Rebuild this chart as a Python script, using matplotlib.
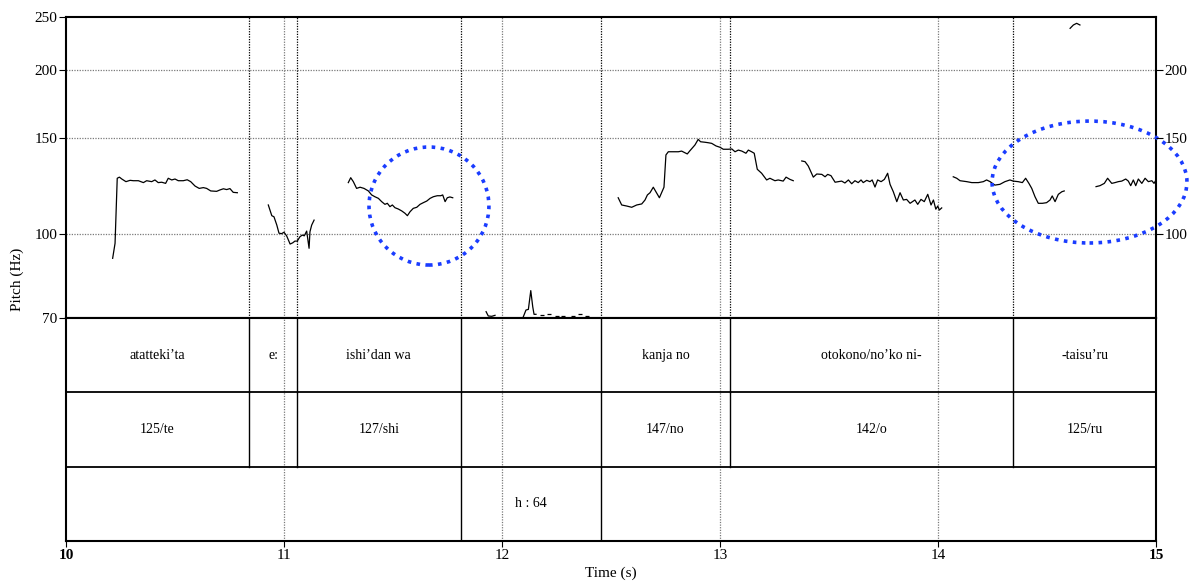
import numpy as np
import matplotlib
matplotlib.use("Agg")
import matplotlib.pyplot as plt
from matplotlib.patches import Ellipse
from matplotlib.ticker import NullLocator, FixedLocator

plt.rcParams["font.family"] = ["Liberation Serif", "DejaVu Serif"]

# --- pitch track (time in s, F0 in Hz), one array pair per voiced stretch ---
seg1_t = [10.214, 10.225, 10.235, 10.245, 10.256, 10.275, 10.294, 10.309, 10.332, 10.355,
          10.370, 10.393, 10.408, 10.423, 10.439, 10.457, 10.469, 10.485, 10.500, 10.515,
          10.538, 10.556, 10.572, 10.592, 10.611, 10.630, 10.645, 10.664, 10.691, 10.706,
          10.722, 10.737, 10.752, 10.767, 10.786]
seg1_hz = [90.1, 96.0, 126.4, 127.0, 126.0, 124.6, 125.3, 125.1, 125.1, 124.1,
           125.1, 124.6, 125.5, 124.1, 124.3, 123.7, 126.4, 125.5, 126.0, 125.1,
           125.1, 125.6, 124.6, 122.3, 121.1, 121.5, 121.1, 119.8, 119.6, 120.3,
           120.9, 120.5, 121.0, 119.1, 118.9]

seg2_t = [10.928, 10.944, 10.954, 10.967, 10.977, 10.989, 11.000, 11.012, 11.028, 11.040,
          11.050, 11.061, 11.073, 11.084, 11.093, 11.104, 11.115, 11.119, 11.127, 11.138]
seg2_hz = [112.9, 107.9, 107.4, 103.7, 100.2, 100.0, 100.6, 99.1, 95.7, 96.2,
           96.9, 96.9, 98.7, 99.4, 99.1, 101.1, 94.0, 100.8, 103.7, 105.9]

seg3_t = [11.295, 11.306, 11.318, 11.333, 11.349, 11.367, 11.387, 11.402, 11.417, 11.433,
          11.448, 11.463, 11.474, 11.486, 11.497, 11.509, 11.524, 11.540, 11.555, 11.566,
          11.578, 11.593, 11.609, 11.624, 11.639, 11.655, 11.670, 11.685, 11.703, 11.719,
          11.728, 11.739, 11.749, 11.761, 11.774]
seg3_hz = [124.1, 126.7, 124.6, 121.1, 121.7, 121.1, 119.8, 117.8, 116.9, 116.1,
           114.5, 113.2, 113.7, 112.1, 112.9, 111.6, 111.0, 110.1, 109.0, 107.9,
           109.7, 111.3, 111.8, 113.2, 114.0, 114.8, 116.1, 116.9, 117.4, 117.4,
           117.8, 114.5, 116.4, 116.8, 116.4]

seg4_t = [11.927, 11.937, 11.953, 11.968]
seg4_hz = [71.9, 70.6, 70.5, 70.8]

seg5_t = [12.098, 12.110, 12.121, 12.132, 12.141, 12.147, 12.156]
seg5_hz = [70.4, 72.4, 72.6, 78.6, 73.4, 71.1, 71.1]

# isolated single frames near the floor
dots_t = [12.182, 12.217, 12.251, 12.281, 12.327, 12.358, 12.388]
dots_hz = [70.9, 71.3, 70.7, 70.7, 70.6, 71.2, 70.6]

seg6_t = [12.533, 12.549, 12.572, 12.595, 12.618, 12.641, 12.656, 12.667, 12.679, 12.694,
          12.706, 12.722, 12.743, 12.752, 12.763, 12.786, 12.809, 12.824, 12.839, 12.850,
          12.862, 12.885, 12.900, 12.911, 12.931, 12.946, 12.962, 12.982, 13.000, 13.015,
          13.038, 13.054, 13.069, 13.084, 13.100, 13.119, 13.130, 13.145, 13.157, 13.171,
          13.191, 13.214, 13.229, 13.252, 13.267, 13.290, 13.303, 13.321, 13.336]
seg6_hz = [116.4, 112.9, 112.4, 111.8, 112.9, 113.4, 115.3, 117.8, 118.9, 121.7,
           119.4, 116.4, 121.7, 139.5, 141.4, 141.4, 141.4, 141.8, 140.8, 140.1,
           142.0, 145.5, 149.0, 147.5, 147.2, 146.9, 146.5, 144.9, 144.1, 142.9,
           142.9, 143.1, 141.4, 142.4, 141.8, 140.5, 142.4, 141.4, 140.5, 131.3,
           129.1, 125.5, 126.4, 125.1, 125.5, 124.9, 127.0, 125.8, 125.1]

seg7_t = [13.375, 13.390, 13.405, 13.428, 13.444, 13.467, 13.482, 13.494, 13.509, 13.528,
          13.543, 13.558, 13.573, 13.589, 13.604, 13.619, 13.634, 13.647, 13.657, 13.673,
          13.688, 13.698, 13.711, 13.723, 13.739, 13.754, 13.769, 13.780, 13.795, 13.811,
          13.826, 13.841, 13.856, 13.872, 13.894, 13.907, 13.922, 13.937, 13.953, 13.968,
          13.979, 13.990, 13.999, 14.006, 14.017]
seg7_hz = [136.0, 135.6, 133.1, 127.0, 128.7, 128.5, 127.2, 128.5, 127.8, 124.3,
           124.6, 124.9, 123.9, 125.5, 123.5, 125.1, 124.1, 125.5, 124.1, 125.3,
           124.6, 125.5, 121.8, 125.5, 124.6, 125.8, 129.1, 123.2, 119.4, 114.5,
           118.9, 115.3, 115.6, 113.7, 115.3, 113.2, 115.6, 114.5, 118.1, 112.9,
           115.3, 110.9, 112.4, 110.5, 111.5]

seg8_t = [14.070, 14.086, 14.101, 14.132, 14.155, 14.185, 14.208, 14.223, 14.239, 14.261,
          14.284, 14.307, 14.330, 14.345, 14.368, 14.387, 14.402, 14.417, 14.430, 14.445,
          14.460, 14.479, 14.498, 14.514, 14.524, 14.537, 14.552, 14.568, 14.579]
seg8_hz = [127.2, 126.4, 125.1, 124.6, 124.1, 124.1, 124.6, 125.5, 124.6, 122.8,
           123.2, 124.6, 125.5, 124.9, 124.6, 124.1, 126.4, 123.7, 121.1, 116.9,
           113.7, 113.7, 114.0, 115.3, 117.3, 114.5, 118.1, 119.4, 119.8]

seg9_t = [14.606, 14.621, 14.636, 14.651]
seg9_hz = [238.3, 241.7, 243.4, 241.7]

seg10_t = [14.725, 14.743, 14.763, 14.778, 14.797, 14.812, 14.827, 14.843, 14.861, 14.873,
           14.884, 14.896, 14.907, 14.919, 14.935, 14.950, 14.965, 14.981, 14.991, 15.000]
seg10_hz = [122.0, 122.5, 123.7, 126.4, 123.7, 124.1, 124.6, 124.9, 126.0, 124.9,
            122.5, 125.5, 122.5, 126.0, 123.7, 126.4, 124.6, 125.1, 123.7, 125.5]

segments = [(seg1_t, seg1_hz), (seg2_t, seg2_hz), (seg3_t, seg3_hz), (seg4_t, seg4_hz),
            (seg5_t, seg5_hz), (seg6_t, seg6_hz), (seg7_t, seg7_hz), (seg8_t, seg8_hz),
            (seg9_t, seg9_hz), (seg10_t, seg10_hz)]

# --- TextGrid tiers ---
tier1_bounds = [10.0, 10.84, 11.06, 11.81, 12.455, 13.045, 14.345, 15.0]
tier1_labels = ["atatteki\u2019ta", "e:", "ishi\u2019dan wa", "", "kanja no",
                "otokono/no\u2019ko ni-", "-taisu\u2019ru"]
tier2_bounds = [10.0, 10.84, 11.06, 11.81, 12.455, 13.045, 14.345, 15.0]
tier2_labels = ["125/te", "", "127/shi", "", "147/no", "142/o", "125/ru"]
tier3_bounds = [10.0, 11.81, 12.455, 15.0]
tier3_labels = ["", "h : 64", ""]

t_min, t_max = 10.0, 15.0
f_min, f_max = 70, 250
left_ticks = [70, 100, 150, 200, 250]
right_ticks = [100, 150, 200]
time_ticks = [10, 11, 12, 13, 14, 15]

# highlighted regions: centre time, centre Hz, width (s), height (fraction of pitch panel)
hl_t = [11.665, 14.695]
hl_hz = [112.4, 124.4]
hl_w = [0.55, 0.894]
hl_h = [0.392, 0.405]

fig = plt.figure(figsize=(11.89, 5.84), dpi=100)
ax = fig.add_axes([66 / 1189, 266 / 584, 1090 / 1189, 301 / 584])
axt = fig.add_axes([66 / 1189, 43 / 584, 1090 / 1189, 223 / 584])

grid_kw = dict(color="#7a7a7a", lw=0.9, ls=(0, (1, 1.1)), zorder=1)
bound_kw = dict(color="black", lw=0.9, ls=(0, (1, 1.1)), zorder=1)

# pitch panel
ax.set_yscale("log")
ax.set_xlim(t_min, t_max)
ax.set_ylim(f_min, f_max)
ax.yaxis.set_major_locator(FixedLocator(left_ticks))
ax.yaxis.set_minor_locator(NullLocator())
ax.set_yticklabels([str(v) for v in left_ticks])
ax.set_xticks([])
ax.tick_params(axis="y", direction="out", length=5, width=0.8, labelsize=11, pad=1)
for v in right_ticks:
    ax.axhline(v, **grid_kw)
for v in time_ticks[1:-1]:
    ax.axvline(v, **grid_kw)
for b in tier1_bounds[1:-1]:
    ax.axvline(b, **bound_kw)
for t, hz in segments:
    ax.plot(t, hz, color="black", lw=0.9, zorder=3)
ax.plot(dots_t, dots_hz, ls="none", marker="_", ms=3, mew=0.9, color="black", zorder=3)
for s in ax.spines.values():
    s.set_linewidth(1.5)

axr = ax.twinx()
axr.set_yscale("log")
axr.set_ylim(f_min, f_max)
axr.yaxis.set_major_locator(FixedLocator(right_ticks))
axr.yaxis.set_minor_locator(NullLocator())
axr.set_yticklabels([str(v) for v in right_ticks])
axr.tick_params(axis="y", direction="out", length=5, width=0.8, labelsize=11, pad=1)
for s in axr.spines.values():
    s.set_visible(False)

for t, hz, w, h in zip(hl_t, hl_hz, hl_w, hl_h):
    xf = (t - t_min) / (t_max - t_min)
    yf = np.log(hz / f_min) / np.log(f_max / f_min)
    ax.add_patch(Ellipse((xf, yf), w / (t_max - t_min), h, transform=ax.transAxes,
                         fill=False, ec="#1a3cff", lw=2.6, ls=(0, (1, 1.5)),
                         clip_on=False, zorder=6))

# tier panel
axt.set_xlim(t_min, t_max)
axt.set_ylim(0, 3)
axt.set_yticks([])
axt.set_xticks(time_ticks)
axt.set_xticklabels([str(v) for v in time_ticks], fontsize=11)
for lbl in (axt.get_xticklabels()[0], axt.get_xticklabels()[-1]):
    lbl.set_fontweight("bold")
axt.tick_params(axis="x", direction="out", length=4, width=0.8, pad=2)
for v in time_ticks[1:-1]:
    axt.axvline(v, **grid_kw)
axt.axhline(1, color="black", lw=1.3)
axt.axhline(2, color="black", lw=1.3)
for s in axt.spines.values():
    s.set_linewidth(1.5)

tiers = [(tier1_bounds, tier1_labels, 2), (tier2_bounds, tier2_labels, 1),
         (tier3_bounds, tier3_labels, 0)]
for bounds, labels, y0 in tiers:
    for b in bounds[1:-1]:
        axt.plot([b, b], [y0, y0 + 1], color="black", lw=1.0, zorder=2)
    for a, b, lab in zip(bounds[:-1], bounds[1:], labels):
        if lab:
            axt.text((a + b) / 2, y0 + 0.5, lab, ha="center", va="center", fontsize=10)

fig.text(17 / 1189, 1 - 279 / 584, "Pitch (Hz)", rotation=90, ha="center", va="center",
         fontsize=11)
fig.text(611 / 1189, 1 - 573 / 584, "Time (s)", ha="center", va="center", fontsize=11)

fig.savefig("out.png", dpi=100)
